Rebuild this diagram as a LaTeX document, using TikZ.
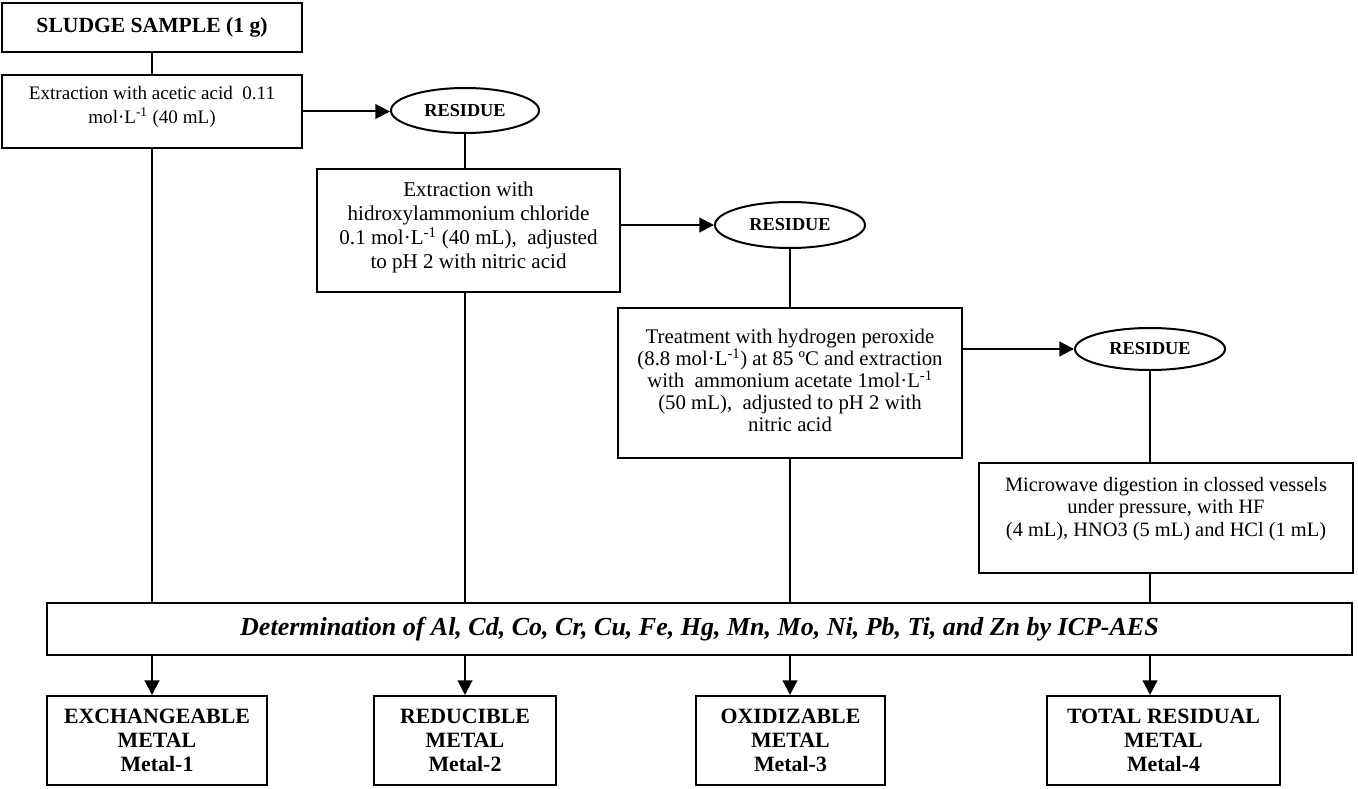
\documentclass[tikz,border=0pt]{standalone}
\usepackage{fontspec}
\setmainfont{Liberation Serif}
\usetikzlibrary{arrows.meta,shapes.geometric}
\tikzset{
  box/.style={draw, line width=1.5pt, inner sep=0pt, rectangle, align=center},
  res/.style={draw, line width=1.5pt, inner sep=0pt, ellipse,
    font=\fontsize{13.7}{16}\selectfont\bfseries},
  txt/.style={inner sep=0pt, align=center},
  link/.style={line width=1.5pt},
  arr/.style={line width=1.5pt, -{Triangle[length=11pt,width=11pt]}},
  metal/.style={box, font=\fontsize{16.4}{18}\selectfont\bfseries, minimum height=66.75pt},
}
\begin{document}
\begin{tikzpicture}[x=0.75pt,y=-0.75pt]
\useasboundingbox (0,0) rectangle (1358,788);

% boxes
\node[box, minimum width=225pt, minimum height=36.75pt,
  font=\fontsize{16.2}{19}\selectfont\bfseries] (sludge) at (152,27.5) {SLUDGE SAMPLE (1 g)};
\node[box, minimum width=225pt, minimum height=54.75pt] (ext1) at (152,111.5) {};
\node[txt, font=\fontsize{14.3}{18}\selectfont] (ext1t) at (152,106.5)
  {Extraction with acetic acid\ \ 0.11\\ mol·L\textsuperscript{-1} (40 mL)};

\node[res, minimum width=111pt, minimum height=33.75pt] (res1) at (465,110.5) {RESIDUE};

\node[box, minimum width=227.25pt, minimum height=92.25pt] (ext2) at (468.5,230.5) {};
\node[txt, font=\fontsize{15.8}{18}\selectfont] (ext2t) at (468.5,227)
  {Extraction with\\ hidroxylammonium chloride\\ 0.1 mol·L\textsuperscript{-1} (40 mL),\ \ adjusted\\ to pH 2 with nitric acid};

\node[res, minimum width=112.5pt, minimum height=34.5pt] (res2) at (790,225) {RESIDUE};

\node[box, minimum width=258pt, minimum height=112.5pt] (ox) at (790,383) {};
\node[txt, font=\fontsize{15.6}{16.5}\selectfont] (oxt) at (790,380.5)
  {Treatment with hydrogen peroxide\\ (8.8 mol·L\textsuperscript{-1}) at 85 ºC and extraction\\ with\ \ ammonium acetate 1mol·L\textsuperscript{-1}\\ (50 mL),\ \ adjusted to pH 2 with\\ nitric acid};

\node[res, minimum width=112.5pt, minimum height=31.5pt] (res3) at (1150,349) {RESIDUE};

\node[box, minimum width=280.5pt, minimum height=82.5pt] (mw) at (1166,518) {};
\node[txt, font=\fontsize{15.3}{17}\selectfont] (mwt) at (1166,509)
  {Microwave digestion in clossed vessels\\ under pressure, with HF\\ (4 mL), HNO3 (5 mL) and HCl (1 mL)};

\node[box, minimum width=978.75pt, minimum height=39pt,
  font=\fontsize{19.5}{22}\selectfont\bfseries\itshape] (det) at (699.5,629)
  {Determination of Al, Cd, Co, Cr, Cu, Fe, Hg, Mn, Mo, Ni, Pb, Ti, and Zn by ICP-AES};

\node[metal, minimum width=165pt] (m1) at (157,740.5) {EXCHANGEABLE\\ METAL\\ Metal-1};
\node[metal, minimum width=136.5pt] (m2) at (465,740.5) {REDUCIBLE\\ METAL\\ Metal-2};
\node[metal, minimum width=141.75pt] (m3) at (790.5,740.5) {OXIDIZABLE\\ METAL\\ Metal-3};
\node[metal, minimum width=174.75pt] (m4) at (1163.5,740.5) {TOTAL RESIDUAL\\ METAL\\ Metal-4};

% connectors
\draw[link] (sludge.south) -- (ext1.north);
\draw[link] (ext1.south) -- (ext1.south |- det.north);
\draw[arr] (ext1.east) -- (ext1.east -| res1.west);
\draw[link] (res1.south) -- (res1.south |- ext2.north);
\draw[link] (res1.south |- ext2.south) -- (res1.south |- det.north);
\draw[arr] (res2.west -| ext2.east) -- (res2.west);
\draw[link] (res2.south) -- (res2.south |- ox.north);
\draw[link] (ox.south) -- (ox.south |- det.north);
\draw[arr] (res3.west -| ox.east) -- (res3.west);
\draw[link] (res3.south) -- (res3.south |- mw.north);
\draw[link] (res3.south |- mw.south) -- (res3.south |- det.north);

\draw[arr] (ext1.south |- det.south) -- (ext1.south |- m1.north);
\draw[arr] (res1.south |- det.south) -- (res1.south |- m2.north);
\draw[arr] (ox.south |- det.south) -- (ox.south |- m3.north);
\draw[arr] (res3.south |- det.south) -- (res3.south |- m4.north);
\end{tikzpicture}
\end{document}
